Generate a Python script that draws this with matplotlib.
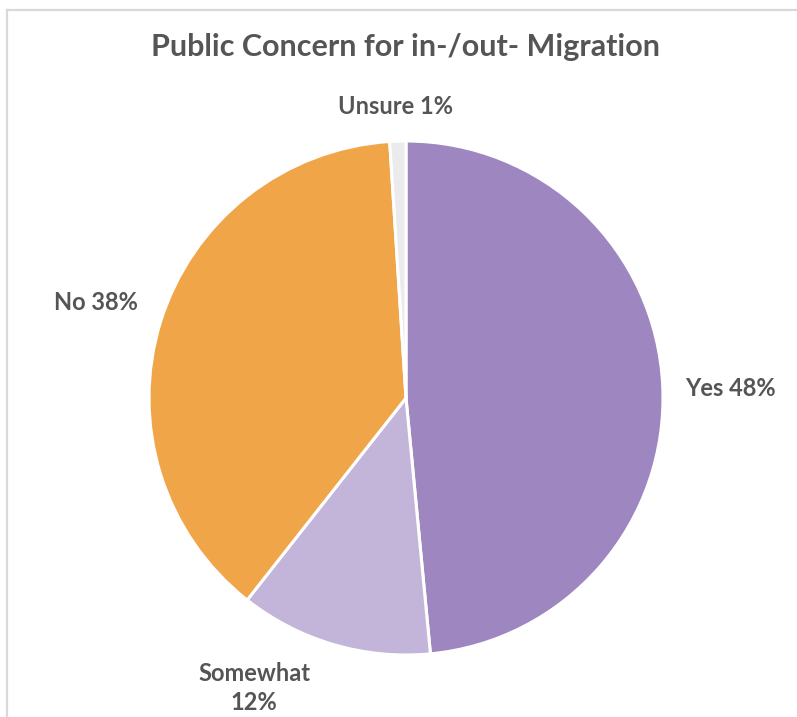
import matplotlib
matplotlib.use("Agg")
import matplotlib.pyplot as plt
from matplotlib.lines import Line2D

# Survey responses (percent)
categories = ["Yes", "Somewhat", "No", "Unsure"]
values = [48, 12, 38, 1]
colors = ["#9e86c0", "#c3b5da", "#f0a548", "#ebebed"]

title = "Public Concern for in-/out- Migration"
label_text = ["Yes 48%", "Somewhat\n12%", "No 38%", "Unsure 1%"]

text_color = "#555555"
font = ["Lato", "DejaVu Sans"]

W, H = 797, 717
fig = plt.figure(figsize=(W / 100, H / 100), dpi=100, frameon=False)

# white background drawn explicitly
bg = fig.add_axes([0, 0, 1, 1], zorder=-10)
bg.set_facecolor("white")
bg.set_xlim(0, W)
bg.set_ylim(H, 0)
bg.axis("off")
bg.add_patch(plt.Rectangle((0, 0), W, H, facecolor="white", edgecolor="none"))

# light chart-area frame: top and left edges
bg.add_line(Line2D([7.5, W + 5], [9.5, 9.5], color="#d9d9d9", linewidth=1.6))
bg.add_line(Line2D([7.5, 7.5], [9.5, H + 5], color="#d9d9d9", linewidth=1.6))

cx, cy, r = 406, 398, 257
ax = fig.add_axes([(cx - r) / W, (H - cy - r) / H, 2 * r / W, 2 * r / H])
wedges, _ = ax.pie(values, colors=colors, startangle=90, counterclock=False,
                   radius=1.0,
                   wedgeprops=dict(edgecolor="white", linewidth=2.2))
ax.set_xlim(-1, 1)
ax.set_ylim(-1, 1)
ax.set_aspect("equal")
ax.axis("off")

fig.text(405 / W, 1 - 47 / H, title, ha="center", va="center",
         fontsize=22, fontweight="bold", color=text_color, family=font)

label_pos = [(730, 388), (254, 688), (96, 302), (396, 107)]
for txt, (px, py) in zip(label_text, label_pos):
    fig.text(px / W, 1 - py / H, txt, ha="center", va="center",
             fontsize=17, fontweight="bold", color=text_color, family=font,
             linespacing=1.3)

fig.savefig("out.png", dpi=100, facecolor="white")
